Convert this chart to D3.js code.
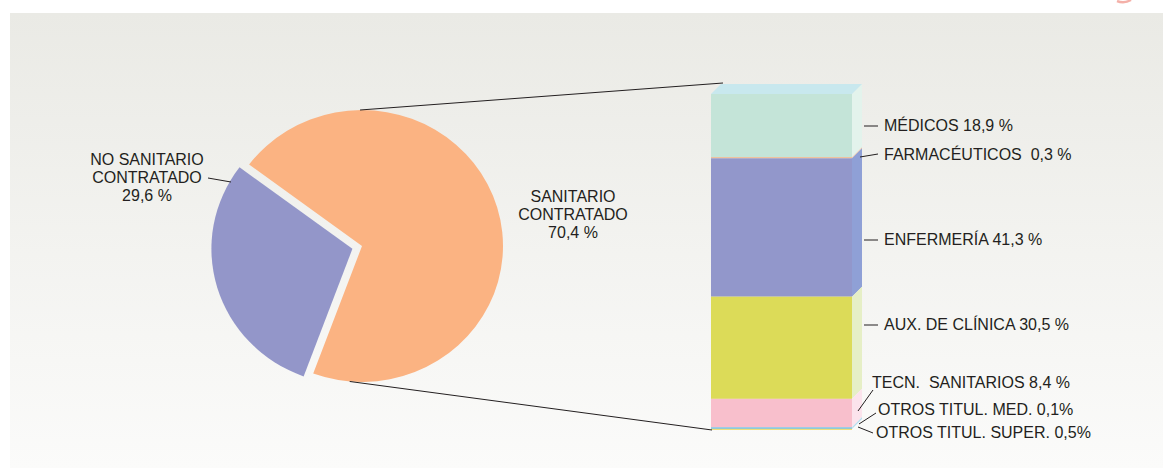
<!DOCTYPE html>
<html>
<head>
<meta charset="utf-8">
<script src="https://cdn.jsdelivr.net/npm/d3@7"></script>
<style>
  html, body { margin: 0; padding: 0; background: #ffffff; }
  svg { display: block; }
  text { font-family: "Liberation Sans", Arial, Helvetica, sans-serif; fill: #231f20; white-space: pre; }
</style>
</head>
<body>
<svg id="chart" width="1163" height="468"></svg>
<script>
// Personal: split between contracted health and non-health staff
const pieLabels = [["SANITARIO", "CONTRATADO", "70,4 %"], ["NO SANITARIO", "CONTRATADO", "29,6 %"]];
const pieValues = [70.4, 29.6];
const pieColors = ["#fbb382", "#9396c9"];

// Breakdown of the contracted health staff (top to bottom of the column)
const barCategories = ["MÉDICOS", "FARMACÉUTICOS", "ENFERMERÍA", "AUX. DE CLÍNICA", "TECN.  SANITARIOS", "OTROS TITUL. MED.", "OTROS TITUL. SUPER."];
const barValues = [18.9, 0.3, 41.3, 30.5, 8.4, 0.1, 0.5];
const barValueLabels = ["18,9 %", " 0,3 %", "41,3 %", "30,5 %", "8,4 %", "0,1%", "0,5%"];
const barFront = ["#c4e4d8", "#f5ae7c", "#9297cb", "#dcdb58", "#f8bfcc", "#c9c9c9", "#7fc4ea"];
const barSide  = ["#e3f3ec", "#f7c9a6", "#8fa0d6", "#e6efc6", "#fbe3ec", "#e6e6e6", "#b5dcef"];

const svg = d3.select("#chart");
const W = 1163, H = 468;

// Panel background with a soft vertical gradient
const defs = svg.append("defs");
const grad = defs.append("linearGradient").attr("id", "bg").attr("x1", 0).attr("y1", 0).attr("x2", 0).attr("y2", 1);
grad.append("stop").attr("offset", "0%").attr("stop-color", "#eaeae5");
grad.append("stop").attr("offset", "100%").attr("stop-color", "#fbfbfa");
svg.append("rect").attr("x", 10).attr("y", 13).attr("width", W - 10).attr("height", H - 13).attr("fill", "url(#bg)");

// small decorative arc at the top right
svg.append("path").attr("d", "M1117,1 Q1124,4 1131,0").attr("fill", "none").attr("stroke", "#f4b0a8").attr("stroke-width", 2.5);

// ---------- Pie ----------
const cx = 362, cy = 246, rx = 141, ry = 136;
const pieStart = 306.8 * Math.PI / 180;
const pie = d3.pie().sort(null).value(d => d)
  .startAngle(pieStart).endAngle(pieStart + 2 * Math.PI);
const arcs = pie(pieValues);
const arc = d3.arc().innerRadius(0).outerRadius(rx);
const explode = [0, 10];

const pieG = svg.append("g");
arcs.forEach((a, i) => {
  const mid = (a.startAngle + a.endAngle) / 2;
  const ox = cx + explode[i] * Math.sin(mid);
  const oy = cy - explode[i] * Math.cos(mid);
  pieG.append("path")
    .attr("d", arc(a))
    .attr("transform", `translate(${ox},${oy}) scale(1,${ry / rx})`)
    .attr("fill", pieColors[i]);
});

// point on the (unexploded) orange slice rim
function rim(angleDeg) {
  const t = angleDeg * Math.PI / 180;
  return [cx + rx * Math.sin(t), cy - ry * Math.cos(t)];
}

// ---------- Stacked 3D column ----------
const bx0 = 711, bx1 = 852, depth = 10;
const y = d3.scaleLinear().domain([0, d3.sum(barValues)]).range([94, 429]);
const cum = [0];
barValues.forEach((v, i) => cum.push(cum[i] + v));

const barG = svg.append("g");
barValues.forEach((v, i) => {
  const y0 = y(cum[i]), y1 = y(cum[i + 1]);
  barG.append("rect").attr("x", bx0).attr("y", y0).attr("width", bx1 - bx0).attr("height", Math.max(y1 - y0, 0.6))
    .attr("fill", barFront[i]);
  barG.append("path")
    .attr("d", `M${bx1},${y0} L${bx1 + depth},${y0 - depth} L${bx1 + depth},${y1 - depth} L${bx1},${y1} Z`)
    .attr("fill", barSide[i]);
});
// top face
barG.append("path")
  .attr("d", `M${bx0},${y(0)} L${bx0 + depth},${y(0) - depth} L${bx1 + depth},${y(0) - depth} L${bx1},${y(0)} Z`)
  .attr("fill", "#c8e8ee");
// thin yellow base line
barG.append("rect").attr("x", bx0).attr("y", y(100) - 0.2).attr("width", bx1 - bx0).attr("height", 1.2).attr("fill", "#f0de7a");

// Connector lines from the orange slice to the column
const lineG = svg.append("g").attr("stroke", "#231f20").attr("stroke-width", 1).attr("fill", "none");
const pTop = rim(-0.8), pBot = rim(185);
lineG.append("line").attr("x1", pTop[0]).attr("y1", pTop[1]).attr("x2", bx0 + depth + 2).attr("y2", y(0) - depth - 1);
lineG.append("line").attr("x1", pBot[0]).attr("y1", pBot[1]).attr("x2", bx0 + 1).attr("y2", y(100) + 1);

// Pie labels
const fs = 16;
function multiLine(x, yTop, lines) {
  const t = svg.append("text").attr("text-anchor", "middle").attr("font-size", fs);
  lines.forEach((l, k) => t.append("tspan").attr("x", x).attr("y", yTop + k * 18).text(l));
}
multiLine(573, 202, pieLabels[0]);
multiLine(147, 165, pieLabels[1]);
lineG.append("line").attr("x1", 208).attr("y1", 178).attr("x2", 231).attr("y2", 182);

// Column labels with leader lines
const labelPos = [
  { tx: 884, ty: 131, l: [[864, 126], [878, 126]] },
  { tx: 884, ty: 160, l: [[860, 157], [878, 154]] },
  { tx: 884, ty: 245, l: [[864, 240], [878, 240]] },
  { tx: 884, ty: 330, l: [[864, 325], [878, 325]] },
  { tx: 872, ty: 388, l: [[858, 411], [873, 390]] },
  { tx: 878, ty: 415, l: [[859, 424], [876, 413]] },
  { tx: 876, ty: 438, l: [[858, 427], [873, 433]] }
];
barCategories.forEach((c, i) => {
  const p = labelPos[i];
  svg.append("line").attr("x1", p.l[0][0]).attr("y1", p.l[0][1]).attr("x2", p.l[1][0]).attr("y2", p.l[1][1])
    .attr("stroke", "#231f20").attr("stroke-width", 1);
  svg.append("text").attr("x", p.tx).attr("y", p.ty).attr("font-size", fs)
    .text(c + " " + barValueLabels[i]);
});
</script>
</body>
</html>
